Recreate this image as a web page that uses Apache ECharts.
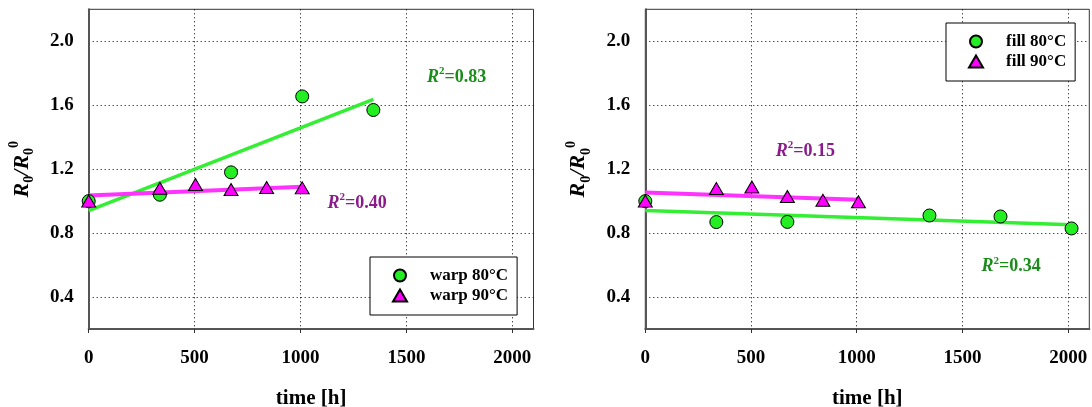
<!DOCTYPE html>
<html>
<head>
<meta charset="utf-8">
<script src="https://cdn.jsdelivr.net/npm/echarts@6/dist/echarts.min.js"></script>
<style>
  html, body { margin: 0; padding: 0; background: #fff; }
  #chart { width: 1092px; height: 407px; }
</style>
</head>
<body>
<div id="chart"></div>
<script>
// Normalised resistance R0/R0^0 versus ageing time, warp (left) and fill (right)
const timeWarp80 = [0, 336, 672, 1008, 1344];
const valWarp80 = [1.0, 1.04, 1.18, 1.655, 1.57];
const timeWarp90 = [0, 336, 504, 672, 840, 1008];
const valWarp90 = [1.0, 1.08, 1.104, 1.073, 1.085, 1.083];

const timeFill80 = [0, 336, 672, 1344, 1680, 2016];
const valFill80 = [1.0, 0.869, 0.87, 0.91, 0.904, 0.829];
const timeFill90 = [0, 336, 504, 672, 840, 1008];
const valFill90 = [1.0, 1.079, 1.088, 1.029, 1.005, 0.996];

// Linear trend lines (start and end points)
const fitWarp80 = [[0, 0.94], [1344, 1.637]];
const fitWarp90 = [[0, 1.035], [1008, 1.09]];
const fitFill80 = [[0, 0.941], [2016, 0.852]];
const fitFill90 = [[0, 1.054], [1008, 1.008]];

// Coefficient of determination labels: [time, value, text]
const r2Warp80 = [1737, 1.777, '0.83'];
const r2Warp90 = [1267, 0.989, '0.40'];
const r2Fill90 = [757, 1.314, '0.15'];
const r2Fill80 = [1730, 0.591, '0.34'];

const xTicks = [0, 500, 1000, 1500, 2000];
const yTicks = [0.4, 0.8, 1.2, 1.6, 2.0];

const legendWarp = ['warp 80°C', 'warp 90°C'];
const legendFill = ['fill 80°C', 'fill 90°C'];

const FONT = '"Liberation Serif", "Times New Roman", serif';
const GREEN = '#22ee22';
const GREEN_LINE = '#33ee33';
const MAGENTA = '#ff00ff';
const MAGENTA_LINE = '#ff33ff';
const GREEN_TEXT = '#1a8c1a';
const PURPLE_TEXT = '#8b1a8b';

const zip = (xs, ys) => xs.map((x, i) => [x, ys[i]]);

function xAxisFor(gridIndex) {
  return {
    type: 'value', gridIndex, min: 0, max: 2100,
    name: 'time [h]', nameLocation: 'middle', nameGap: 59,
    nameTextStyle: { fontFamily: FONT, fontWeight: 'bold', fontSize: 21, color: '#000' },
    axisLine: { show: true, onZero: false, lineStyle: { color: '#555', width: 2 } },
    axisTick: { show: true, inside: false, length: 4, customValues: xTicks, lineStyle: { color: '#333' } },
    axisLabel: {
      customValues: xTicks, margin: 20, fontFamily: FONT, fontWeight: 'bold', fontSize: 19, color: '#000',
      formatter: v => String(v)
    },
    splitLine: { show: true, showMinLine: false, lineStyle: { color: '#000', type: [1, 3], width: 1 } }
  };
}

function yAxisFor(gridIndex) {
  return {
    type: 'value', gridIndex, min: 0.2, max: 2.2,
    name: '{r|R}{sb|0}{r|/R}{sb|0}{sp|0}',
    nameLocation: 'middle', nameGap: 52, nameRotate: 90,
    nameTextStyle: {
      rich: {
        r: { fontFamily: FONT, fontWeight: 'bold', fontStyle: 'italic', fontSize: 22, color: '#000', lineHeight: 29 },
        sb: { fontFamily: FONT, fontWeight: 'bold', fontSize: 14, color: '#000', verticalAlign: 'bottom', lineHeight: 29 },
        sp: { fontFamily: FONT, fontWeight: 'bold', fontSize: 14, color: '#000', verticalAlign: 'top', lineHeight: 29 }
      }
    },
    axisLine: { show: true, onZero: false, lineStyle: { color: '#555', width: 2 } },
    axisTick: { show: false, customValues: yTicks },
    axisLabel: {
      customValues: yTicks, margin: 15, fontFamily: FONT, fontWeight: 'bold', fontSize: 19, color: '#000',
      formatter: v => v.toFixed(1)
    },
    splitLine: { show: true, lineStyle: { color: '#000', type: [1, 3], width: 1 } }
  };
}

function r2Mark(item, color) {
  return {
    silent: true,
    symbol: 'circle',
    symbolSize: 1,
    itemStyle: { color: 'rgba(0,0,0,0)' },
    data: [{
      coord: [item[0], item[1]],
      label: {
        show: true, position: 'inside',
        formatter: '{i|R}{s|2}{t|=' + item[2] + '}',
        rich: {
          i: { fontFamily: FONT, fontWeight: 'bold', fontStyle: 'italic', fontSize: 18, color, lineHeight: 22 },
          s: { fontFamily: FONT, fontWeight: 'bold', fontSize: 11, color, verticalAlign: 'top', lineHeight: 22 },
          t: { fontFamily: FONT, fontWeight: 'bold', fontSize: 18, color, lineHeight: 22 }
        }
      }
    }]
  };
}

function trend(idx, data, color, width, mark) {
  return {
    type: 'line', xAxisIndex: idx, yAxisIndex: idx, data,
    showSymbol: false, symbol: 'none', silent: true, z: 2,
    lineStyle: { color, width },
    markPoint: mark
  };
}

function scatter(idx, name, data, symbol, size, color) {
  return {
    type: 'scatter', name, xAxisIndex: idx, yAxisIndex: idx, data,
    symbol, symbolSize: size, z: 3, clip: false,
    itemStyle: { color, borderColor: '#000', borderWidth: 1, opacity: 1 }
  };
}

function legendFor(data, left, top) {
  return {
    data, orient: 'vertical', left, top,
    itemWidth: 14, itemHeight: 12, itemGap: 3,
    padding: [10, 9, 11, 22],
    backgroundColor: '#fff', borderColor: '#000', borderWidth: 1, borderRadius: 0,
    textStyle: { fontFamily: FONT, fontWeight: 'bold', fontSize: 17, color: '#000', padding: [0, 0, 0, 18] },
    selectedMode: false
  };
}

const gridBase = {
  top: 9.3, height: 319.7, show: true, borderColor: '#333', borderWidth: 1,
  backgroundColor: 'transparent', containLabel: false, outerBoundsMode: 'none'
};

const chart = echarts.init(document.getElementById('chart'), null, { renderer: 'canvas' });
chart.setOption({
  animation: false,
  backgroundColor: '#fff',
  grid: [
    Object.assign({ left: 88.7, width: 444.8 }, gridBase),
    Object.assign({ left: 645.3, width: 444 }, gridBase)
  ],
  xAxis: [xAxisFor(0), xAxisFor(1)],
  yAxis: [yAxisFor(0), yAxisFor(1)],
  legend: [legendFor(legendWarp, 370, 257), legendFor(legendFill, 946, 23)],
  series: [
    trend(0, fitWarp80, GREEN_LINE, 3.5, r2Mark(r2Warp80, GREEN_TEXT)),
    trend(0, fitWarp90, MAGENTA_LINE, 4, r2Mark(r2Warp90, PURPLE_TEXT)),
    scatter(0, legendWarp[0], zip(timeWarp80, valWarp80), 'circle', 13, GREEN),
    scatter(0, legendWarp[1], zip(timeWarp90, valWarp90), 'triangle', [14, 12], MAGENTA),

    trend(1, fitFill80, GREEN_LINE, 3.5, r2Mark(r2Fill80, GREEN_TEXT)),
    trend(1, fitFill90, MAGENTA_LINE, 4, r2Mark(r2Fill90, PURPLE_TEXT)),
    scatter(1, legendFill[0], zip(timeFill80, valFill80), 'circle', 13, GREEN),
    scatter(1, legendFill[1], zip(timeFill90, valFill90), 'triangle', [14, 12], MAGENTA)
  ]
});
</script>
</body>
</html>
